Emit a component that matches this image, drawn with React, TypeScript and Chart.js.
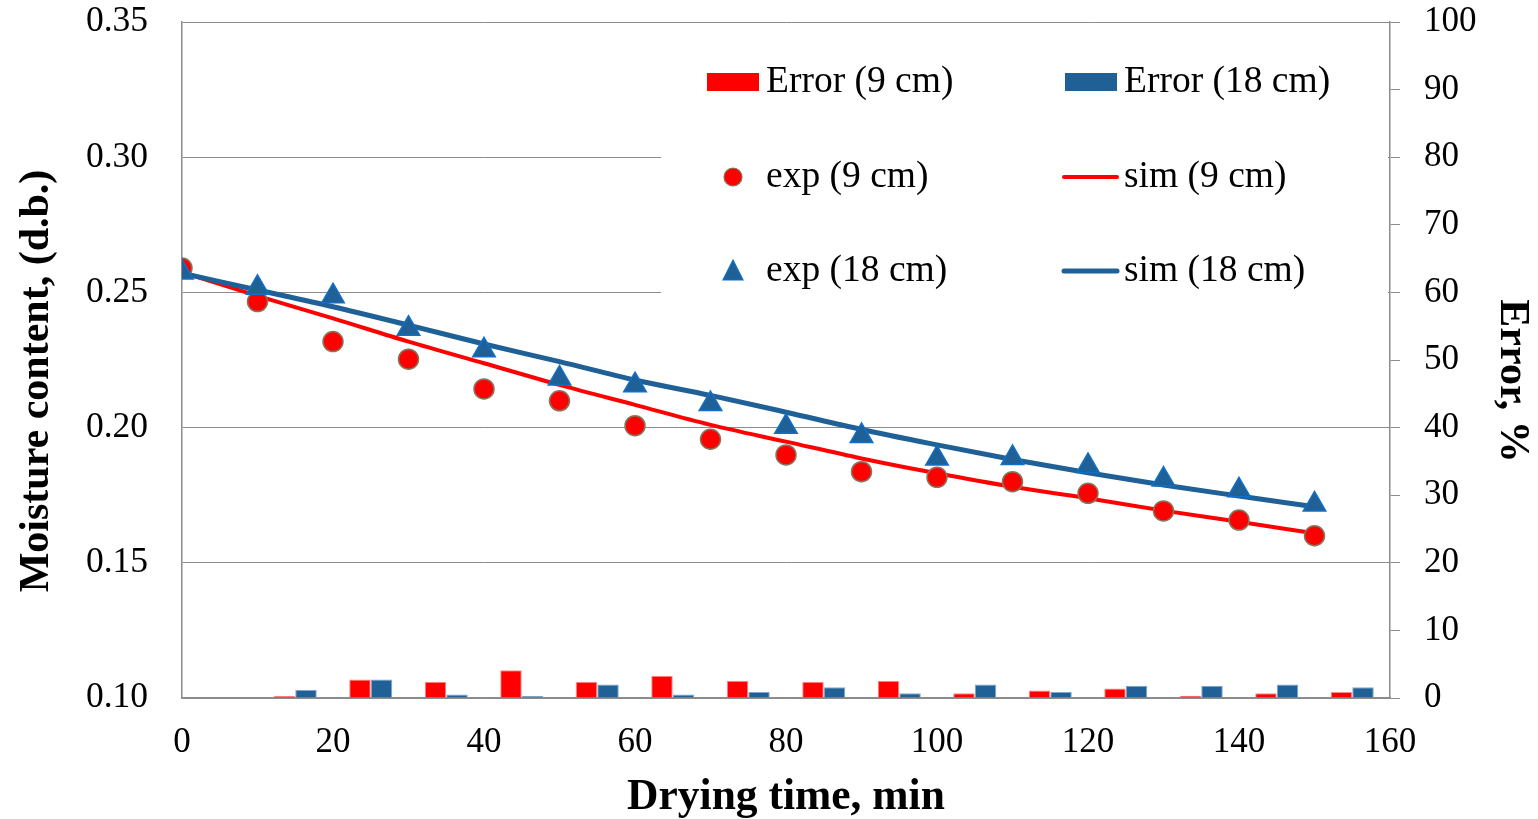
import React, { useEffect, useRef } from "react";
import { Chart, registerables } from "chart.js";

Chart.register(...registerables);

// ---- data ----
const times = [0, 10, 20, 30, 40, 50, 60, 70, 80, 90, 100, 110, 120, 130, 140, 150];
const exp9 = [0.259, 0.2466, 0.2318, 0.2253, 0.2143, 0.2099, 0.2007, 0.1957, 0.1899, 0.1837, 0.1816, 0.18, 0.1757, 0.1692, 0.1658, 0.16];
const sim9 = [0.2575, 0.2487, 0.2404, 0.2318, 0.2238, 0.2158, 0.2084, 0.201, 0.1948, 0.1886, 0.1831, 0.1781, 0.1739, 0.1693, 0.1652, 0.1609];
const exp18 = [0.2574, 0.2517, 0.2486, 0.2366, 0.2286, 0.2182, 0.2157, 0.2087, 0.2003, 0.1969, 0.1886, 0.1888, 0.1858, 0.1808, 0.1768, 0.1716];
const sim18 = [0.2571, 0.2509, 0.2447, 0.2379, 0.2309, 0.2244, 0.2176, 0.2119, 0.2057, 0.1993, 0.1936, 0.1882, 0.1833, 0.1788, 0.1747, 0.1707];
const errTimes = [15, 25, 35, 45, 55, 65, 75, 85, 95, 105, 115, 125, 135, 145, 155];
const err9 = [0.3, 2.75, 2.4, 4.1, 2.4, 3.3, 2.55, 2.4, 2.55, 0.7, 1.1, 1.4, 0.35, 0.7, 0.9];
const err18 = [1.2, 2.75, 0.5, 0.3, 2.0, 0.5, 0.9, 1.6, 0.7, 2.0, 0.9, 1.8, 1.8, 2.0, 1.6];

const seriesLabels = ["Error (9 cm)", "Error (18 cm)", "exp (9 cm)", "sim (9 cm)", "exp (18 cm)", "sim (18 cm)"];
const xTitle = "Drying time, min";
const yTitle = "Moisture content, (d.b.)";
const y2Title = "Error, %";

const RED = "#ff0000";
const BLUE = "#1f6096";
const GRID = "#8c8c8c";
const FONT = "'Liberation Serif', 'Times New Roman', serif";

const pts = (xs: number[], ys: number[]) => xs.map((x, i) => ({ x, y: ys[i] }));

const legendPlugin = {
  id: "boxLegend",
  beforeDatasetsDraw(chart: any) {
    const ctx = chart.ctx as CanvasRenderingContext2D;
    ctx.save();
    ctx.fillStyle = "#ffffff";
    ctx.fillRect(661, 34, 727, 282);
    const rows = [82, 177, 271];
    const cols = [{ m0: 707, m1: 759, tx: 766 }, { m0: 1065, m1: 1117, tx: 1124 }];
    const layout = [
      { ds: 0, kind: "bar", c: 0, r: 0 },
      { ds: 1, kind: "bar", c: 1, r: 0 },
      { ds: 2, kind: "circle", c: 0, r: 1 },
      { ds: 3, kind: "line", c: 1, r: 1 },
      { ds: 4, kind: "triangle", c: 0, r: 2 },
      { ds: 5, kind: "line", c: 1, r: 2 },
    ];
    ctx.font = `37.5px ${FONT}`;
    ctx.textBaseline = "middle";
    ctx.textAlign = "left";
    for (const it of layout) {
      const d = chart.data.datasets[it.ds];
      const col = cols[it.c];
      const y = rows[it.r];
      if (it.kind === "bar") {
        ctx.fillStyle = d.backgroundColor;
        ctx.fillRect(col.m0, y - 9, col.m1 - col.m0, 18);
      } else if (it.kind === "line") {
        ctx.strokeStyle = d.borderColor;
        ctx.lineWidth = d.borderWidth;
        ctx.lineCap = "round";
        ctx.beginPath();
        ctx.moveTo(col.m0 - 1, y);
        ctx.lineTo(col.m1, y);
        ctx.stroke();
      } else if (it.kind === "circle") {
        ctx.fillStyle = d.pointBackgroundColor;
        ctx.strokeStyle = d.pointBorderColor;
        ctx.lineWidth = 1.2;
        ctx.beginPath();
        ctx.arc(733, y, 9, 0, Math.PI * 2);
        ctx.fill();
        ctx.stroke();
      } else {
        ctx.fillStyle = d.pointBackgroundColor;
        ctx.strokeStyle = d.pointBorderColor;
        ctx.lineWidth = 1.2;
        ctx.beginPath();
        ctx.moveTo(733, y - 11);
        ctx.lineTo(733 + 10, y + 9);
        ctx.lineTo(733 - 10, y + 9);
        ctx.closePath();
        ctx.fill();
        ctx.stroke();
      }
      ctx.fillStyle = "#000";
      ctx.fillText(d.label, col.tx, y);
    }
    ctx.restore();
  },
};

const fitV = (w: number) => (s: any) => {
  s.width = w;
  s.paddingTop = 0;
  s.paddingBottom = 0;
};

export default function App() {
  const ref = useRef<HTMLCanvasElement | null>(null);

  useEffect(() => {
    document.body.style.margin = "0";
    if (!ref.current) return;
    const chart = new Chart(ref.current, {
      type: "line",
      data: {
        datasets: [
          {
            type: "bar",
            label: seriesLabels[0],
            data: pts(errTimes, err9) as any,
            xAxisID: "x",
            yAxisID: "y2",
            backgroundColor: RED,
            borderColor: "#ff8c8c",
            borderWidth: 1,
            borderSkipped: "bottom",
            categoryPercentage: 0.57,
            barPercentage: 1,
            order: 5,
          } as any,
          {
            type: "bar",
            label: seriesLabels[1],
            data: pts(errTimes, err18) as any,
            xAxisID: "x",
            yAxisID: "y2",
            backgroundColor: BLUE,
            borderColor: "#7fa6cc",
            borderWidth: 1,
            borderSkipped: "bottom",
            categoryPercentage: 0.57,
            barPercentage: 1,
            order: 5,
          } as any,
          {
            type: "line",
            label: seriesLabels[2],
            data: pts(times, exp9) as any,
            yAxisID: "y",
            showLine: false,
            pointStyle: "circle",
            pointRadius: 10,
            pointBackgroundColor: RED,
            pointBorderColor: "#85755f",
            pointBorderWidth: 1.5,
            borderColor: RED,
            order: 2,
          },
          {
            type: "line",
            label: seriesLabels[3],
            data: pts(times, sim9) as any,
            yAxisID: "y",
            borderColor: RED,
            borderWidth: 4,
            pointRadius: 0,
            cubicInterpolationMode: "monotone",
            order: 4,
          },
          {
            type: "line",
            label: seriesLabels[4],
            data: pts(times, exp18) as any,
            yAxisID: "y",
            showLine: false,
            pointStyle: "triangle",
            pointRadius: 13,
            pointBackgroundColor: BLUE,
            pointBorderColor: "#1070c8",
            pointBorderWidth: 1.5,
            borderColor: BLUE,
            order: 1,
          },
          {
            type: "line",
            label: seriesLabels[5],
            data: pts(times, sim18) as any,
            yAxisID: "y",
            borderColor: BLUE,
            borderWidth: 5,
            pointRadius: 0,
            cubicInterpolationMode: "monotone",
            order: 3,
          },
        ],
      },
      options: {
        responsive: true,
        maintainAspectRatio: false,
        animation: false,
        layout: { padding: { top: 22, left: 0, right: 0, bottom: 0 } },
        plugins: { legend: { display: false }, tooltip: { enabled: false } },
        scales: {
          x: {
            type: "linear",
            min: 0,
            max: 160,
            offset: false,
            afterFit: (s: any) => { s.height = 121; },
            ticks: { stepSize: 20, color: "#000", padding: 24, font: { family: FONT, size: 35 } },
            grid: { display: false, drawTicks: false },
            border: { display: true, color: GRID, width: 1.5 },
            title: { display: true, text: xTitle, color: "#000", padding: { top: 0, bottom: -1 }, font: { family: FONT, size: 43.5, weight: "bold", lineHeight: 1 } },
          },
          y: {
            type: "linear",
            position: "left",
            min: 0.1,
            max: 0.35,
            afterFit: fitV(182),
            ticks: { stepSize: 0.05, color: "#000", padding: 34, font: { family: FONT, size: 35.5 }, callback: (v: any) => Number(v).toFixed(2) },
            grid: { color: GRID, lineWidth: 1, drawTicks: false },
            border: { display: true, color: GRID, width: 1.5 },
            title: { display: true, text: yTitle + "    ", color: "#000", padding: { top: 16, bottom: 0 }, font: { family: FONT, size: 42, weight: "bold", lineHeight: 1 } },
          },
          y2: {
            type: "linear",
            position: "right",
            min: 0,
            max: 100,
            afterFit: fitV(148),
            ticks: { stepSize: 10, color: "#000", padding: 24, font: { family: FONT, size: 35 } },
            grid: { drawOnChartArea: false, drawTicks: true, tickLength: 10, color: GRID, lineWidth: 1 },
            border: { display: true, color: GRID, width: 1.5 },
            title: { display: true, text: "    " + y2Title, color: "#000", padding: { top: 5, bottom: 0 }, font: { family: FONT, size: 42, weight: "bold", lineHeight: 1 } },
          },
        },
      },
      plugins: [legendPlugin],
    });
    return () => chart.destroy();
  }, []);

  return (
    <div style={{ width: 1538, height: 819, position: "relative", background: "#fff" }}>
      <canvas ref={ref} />
    </div>
  );
}
